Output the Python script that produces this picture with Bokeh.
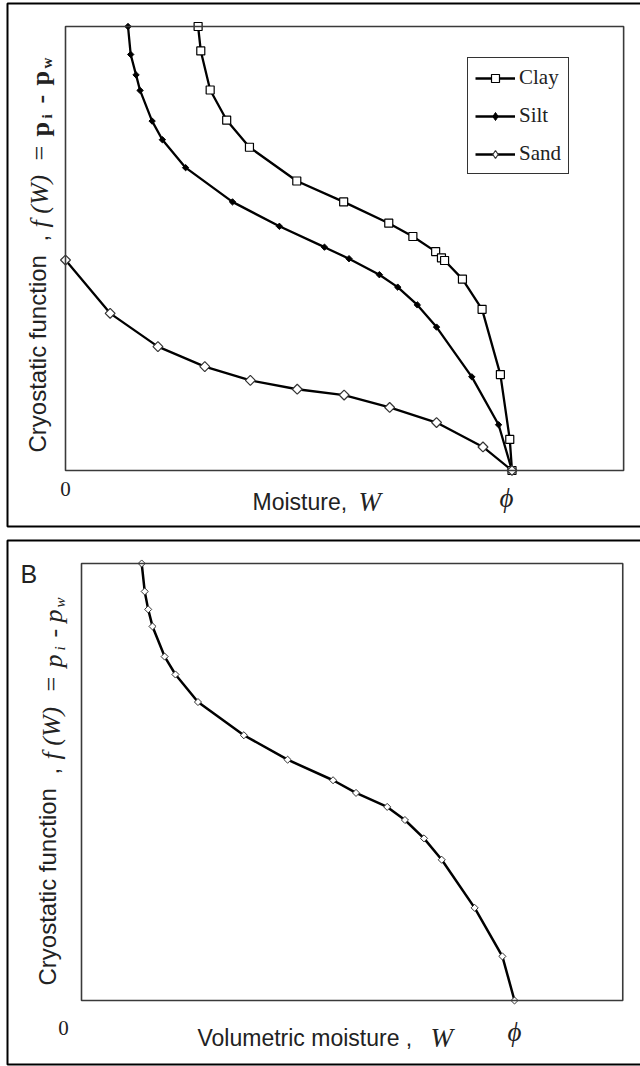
import math
from bokeh.plotting import figure
from bokeh.models import Label, BoxAnnotation, Legend, LegendItem, Range1d
from bokeh.layouts import column
from bokeh.embed import file_html
from bokeh.resources import INLINE

# ---------------- data ----------------
# Panel A: moisture W as a fraction of porosity phi, cryostatic function normalised to 1
clay_w = [0.297, 0.303, 0.324, 0.361, 0.412, 0.518, 0.623, 0.724, 0.778, 0.829, 0.842, 0.849, 0.889, 0.933, 0.974, 0.995, 1.0]
clay_f = [1.0, 0.945, 0.857, 0.789, 0.728, 0.652, 0.605, 0.557, 0.527, 0.493, 0.479, 0.473, 0.431, 0.363, 0.216, 0.070, 0.0]

silt_w = [0.140, 0.146, 0.158, 0.167, 0.194, 0.217, 0.269, 0.374, 0.479, 0.580, 0.635, 0.703, 0.744, 0.788, 0.831, 0.910, 0.970, 1.0]
silt_f = [1.0, 0.937, 0.891, 0.856, 0.787, 0.745, 0.682, 0.605, 0.550, 0.503, 0.477, 0.441, 0.413, 0.373, 0.323, 0.211, 0.103, 0.0]

sand_w = [0.0, 0.100, 0.207, 0.312, 0.414, 0.519, 0.624, 0.726, 0.831, 0.935, 1.0]
sand_f = [0.474, 0.354, 0.279, 0.234, 0.203, 0.183, 0.170, 0.142, 0.108, 0.053, 0.0]

# Panel B: volumetric moisture
b_w = [0.139, 0.146, 0.154, 0.164, 0.192, 0.217, 0.269, 0.375, 0.476, 0.581, 0.634, 0.706, 0.747, 0.791, 0.832, 0.908, 0.972, 1.0]
b_f = [1.0, 0.936, 0.895, 0.856, 0.787, 0.746, 0.683, 0.607, 0.551, 0.504, 0.475, 0.443, 0.413, 0.371, 0.322, 0.212, 0.101, 0.0]

series_names = ["Clay", "Silt", "Sand"]
x_tick_labels = ["0", "\u03d5"]
W_MAX = 1.25
NAN = [float("nan")]

SANS = "Liberation Sans"
SERIF = "Liberation Serif"
TXT = "#222222"
LW = 2.3


def make_fig(h, px0, pxphi, py0, pytop):
    def fx(px):
        return (px - px0) / (pxphi - px0)

    def fy(py):
        return (py0 - py) / (py0 - pytop)

    p = figure(width=640, height=h,
               x_range=Range1d(fx(0), fx(640)), y_range=Range1d(fy(h), fy(0)),
               x_axis_type=None, y_axis_type=None,
               toolbar_location=None, output_backend="svg",
               min_border=0, outline_line_color=None,
               background_fill_color="white", border_fill_color="white")
    p.grid.visible = False
    return p, fx, fy


def lab(p, x, y, text, font, size, style="normal", angle=0.0, align="left", baseline="alphabetic"):
    p.add_layout(Label(x=x, y=y, text=text, text_font=font, text_font_size=f"{size}px",
                       text_font_style=style, angle=angle, text_align=align,
                       text_baseline=baseline, text_color=TXT))


def box(p, l, r, t, b, color, width):
    p.add_layout(BoxAnnotation(left=l, right=r, top=t, bottom=b,
                               fill_color=None, fill_alpha=0,
                               line_color=color, line_alpha=1.0, line_width=width))


# ======================= Panel A =======================
p1, ax, ay = make_fig(530, 65, 511.5, 470, 26)

# outer panel border and plot frame
box(p1, ax(7), ax(700), ay(3), ay(526), "black", 2)
box(p1, 0, W_MAX, 1, 0, "#3a3a3a", 1.6)

l_clay = p1.line(clay_w, clay_f, line_color="black", line_width=LW)
l_silt = p1.line(silt_w, silt_f, line_color="black", line_width=LW)
l_sand = p1.line(sand_w, sand_f, line_color="black", line_width=LW)
m_clay = p1.scatter(clay_w, clay_f, marker="square", size=8, fill_color="white", line_color="black", line_width=1.2)
p1.scatter(silt_w, silt_f, marker="square", size=4.5, angle=math.pi / 4, fill_color="black", line_color="black", line_width=1)
p1.scatter(sand_w, sand_f, marker="square", size=7, angle=math.pi / 4, fill_color="white", line_color="#333333", line_width=1.2)

# legend-only marker glyphs (diamonds); a single NaN point so nothing shows in the plot
g_silt = p1.scatter(x=NAN, y=NAN, marker="diamond", size=10, fill_color="black", line_color="black", line_width=1)
g_sand = p1.scatter(x=NAN, y=NAN, marker="diamond", size=12, fill_color="white", line_color="#333333", line_width=1.2)

legend = Legend(items=[LegendItem(label=series_names[0], renderers=[l_clay, m_clay]),
                       LegendItem(label=series_names[1], renderers=[l_silt, g_silt]),
                       LegendItem(label=series_names[2], renderers=[l_sand, g_sand])],
                location=(467, 356), orientation="vertical",
                glyph_width=40, glyph_height=20, label_height=20, label_standoff=4,
                spacing=13, padding=7, margin=0,
                label_text_font=SERIF, label_text_font_size="21px", label_text_color=TXT,
                border_line_color="#333333", border_line_width=1.5, border_line_alpha=1.0,
                background_fill_color="white", background_fill_alpha=1.0)
p1.add_layout(legend)

# x tick labels and axis title
lab(p1, ax(65), ay(488), x_tick_labels[0], SERIF, 21, align="center", baseline="middle")
lab(p1, ax(506), ay(497), x_tick_labels[1], SERIF, 27, style="italic", align="center", baseline="middle")
lab(p1, ax(252), ay(501), "Moisture,", SANS, 23)
lab(p1, ax(358), ay(501), "W", SERIF, 27, style="italic")

# rotated y title
R = math.pi / 2
lab(p1, ax(37), ay(452), "Cryostatic function", SANS, 24, angle=R, baseline="middle")
lab(p1, ax(39), ay(241), ",", SANS, 24, angle=R, baseline="middle")
lab(p1, ax(39), ay(227), "f (W)", SERIF, 26, style="italic", angle=R, baseline="middle")
lab(p1, ax(39), ay(160), "=", SERIF, 26, angle=R, baseline="middle")
lab(p1, ax(40), ay(136), "p", SERIF, 26, style="bold", angle=R, baseline="middle")
lab(p1, ax(46), ay(118), "i", SERIF, 15, style="bold", angle=R, baseline="middle")
lab(p1, ax(40), ay(103), "-", SERIF, 26, style="bold", angle=R, baseline="middle")
lab(p1, ax(40), ay(85), "p", SERIF, 26, style="bold", angle=R, baseline="middle")
lab(p1, ax(46), ay(68), "w", SERIF, 15, style="bold", angle=R, baseline="middle")

# ======================= Panel B =======================
OFF = 530
p2, bx, by0 = make_fig(536, 81, 514, 470, 33)


def by(py):
    return by0(py - OFF)


box(p2, bx(7), bx(700), by(540), by(1064), "black", 2)
box(p2, 0, W_MAX, 1, 0, "#3a3a3a", 1.6)

p2.line(b_w, b_f, line_color="black", line_width=2.5)
p2.scatter(b_w, b_f, marker="square", size=5, angle=math.pi / 4, fill_color="white", line_color="#333333", line_width=1)

lab(p2, bx(20), by(573), "B", SANS, 25)
lab(p2, bx(63), by(1027), x_tick_labels[0], SERIF, 21, align="center", baseline="middle")
lab(p2, bx(514), by(1031), x_tick_labels[1], SERIF, 27, style="italic", align="center", baseline="middle")
lab(p2, bx(197), by(1037), "Volumetric moisture ,", SANS, 23)
lab(p2, bx(430), by(1037), "W", SERIF, 27, style="italic")

lab(p2, bx(47), by(985), "Cryostatic function", SANS, 24, angle=R, baseline="middle")
lab(p2, bx(50), by(774), ",", SANS, 24, angle=R, baseline="middle")
lab(p2, bx(51), by(759), "f (W)", SERIF, 26, style="italic", angle=R, baseline="middle")
lab(p2, bx(51), by(691), "=", SERIF, 26, angle=R, baseline="middle")
lab(p2, bx(53), by(667), "p", SERIF, 26, style="italic", angle=R, baseline="middle")
lab(p2, bx(59), by(650), "i", SERIF, 15, style="italic", angle=R, baseline="middle")
lab(p2, bx(53), by(637), "-", SERIF, 26, angle=R, baseline="middle")
lab(p2, bx(53), by(622), "p", SERIF, 26, style="italic", angle=R, baseline="middle")
lab(p2, bx(59), by(607), "w", SERIF, 15, style="italic", angle=R, baseline="middle")

layout = column(p1, p2, spacing=0)
open("out.html", "w").write(file_html(layout, INLINE))
